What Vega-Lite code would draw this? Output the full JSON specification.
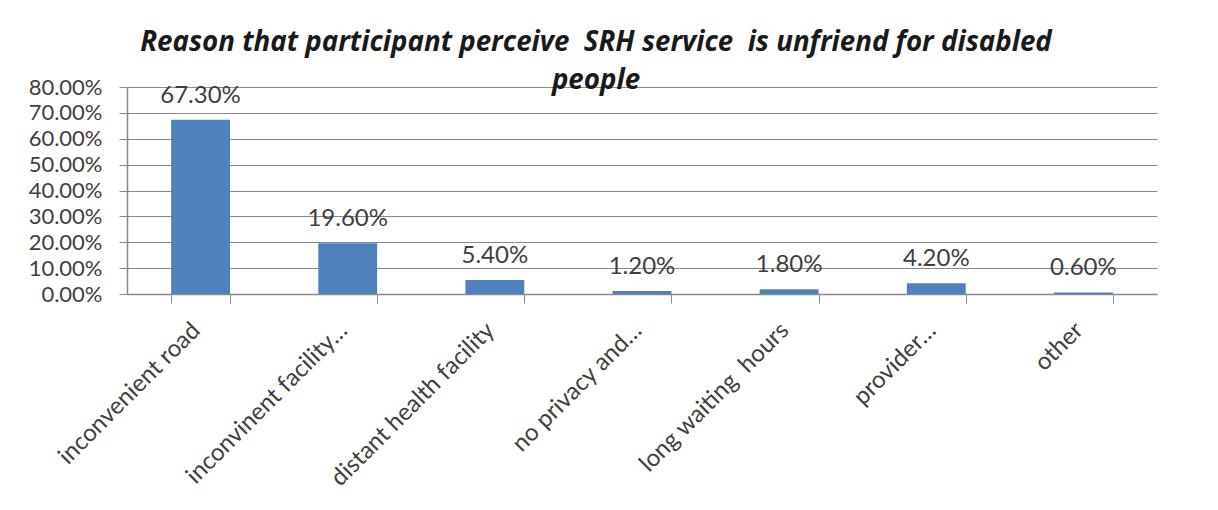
{
  "$schema": "https://vega.github.io/schema/vega-lite/v6.json",
  "autosize": {"type": "none"},
  "padding": {"left": 127, "top": 87, "right": 61, "bottom": 216},
  "width": 1030,
  "height": 207,
  "background": "white",
  "title": {
    "text": ["Reason that participant perceive \u00a0SRH service \u00a0is unfriend for disabled", "people"],
    "font": "Open Sans",
    "fontSize": 27.7,
    "fontWeight": "bold",
    "fontStyle": "italic",
    "color": "#1a1a1a",
    "anchor": "middle",
    "frame": "group",
    "lineHeight": 38,
    "baseline": "alphabetic",
    "offset": 0,
    "dx": -46,
    "dy": 41
  },
  "data": {
    "values": [
      {"reason": "inconvenient road", "pct": 0.673, "label": "67.30%"},
      {"reason": "inconvinent facility…", "pct": 0.196, "label": "19.60%"},
      {"reason": "distant health facility", "pct": 0.054, "label": "5.40%"},
      {"reason": "no privacy and…", "pct": 0.012, "label": "1.20%"},
      {"reason": "long waiting \u00a0hours", "pct": 0.018, "label": "1.80%"},
      {"reason": "provider…", "pct": 0.042, "label": "4.20%"},
      {"reason": "other", "pct": 0.006, "label": "0.60%"}
    ]
  },
  "encoding": {
    "x": {
      "field": "reason",
      "type": "nominal",
      "sort": null,
      "title": null,
      "scale": {"paddingInner": 0.6, "paddingOuter": 0.3},
      "axis": {
        "labelAngle": -45,
        "labelAlign": "right",
        "labelBaseline": "top",
        "labelFont": "Lato",
        "labelFontSize": 24,
        "labelColor": "#404040",
        "labelPadding": 15,
        "labelOffset": -13,
        "labelLimit": 400,
        "tickBand": "extent",
        "tickSize": 9,
        "tickColor": "#8a8a8a",
        "domainColor": "#8a8a8a",
        "domainWidth": 1.5,
        "grid": false
      }
    },
    "y": {
      "field": "pct",
      "type": "quantitative",
      "title": null,
      "scale": {"domain": [0, 0.8], "nice": false},
      "axis": {
        "values": [0, 0.1, 0.2, 0.3, 0.4, 0.5, 0.6, 0.7, 0.8],
        "format": ".2%",
        "labelFont": "Lato",
        "labelFontSize": 22,
        "labelColor": "#404040",
        "labelPadding": 17,
        "tickSize": 8,
        "tickColor": "#8a8a8a",
        "domainColor": "#8a8a8a",
        "domainWidth": 1.5,
        "grid": true,
        "gridColor": "#8a8a8a",
        "gridWidth": 1
      }
    }
  },
  "layer": [
    {"mark": {"type": "bar", "color": "#4F81BD"}},
    {
      "mark": {"type": "text", "font": "Lato", "fontSize": 24, "color": "#404040", "baseline": "alphabetic", "dy": -17},
      "encoding": {"text": {"field": "label"}}
    }
  ],
  "config": {"view": {"stroke": null}}
}
